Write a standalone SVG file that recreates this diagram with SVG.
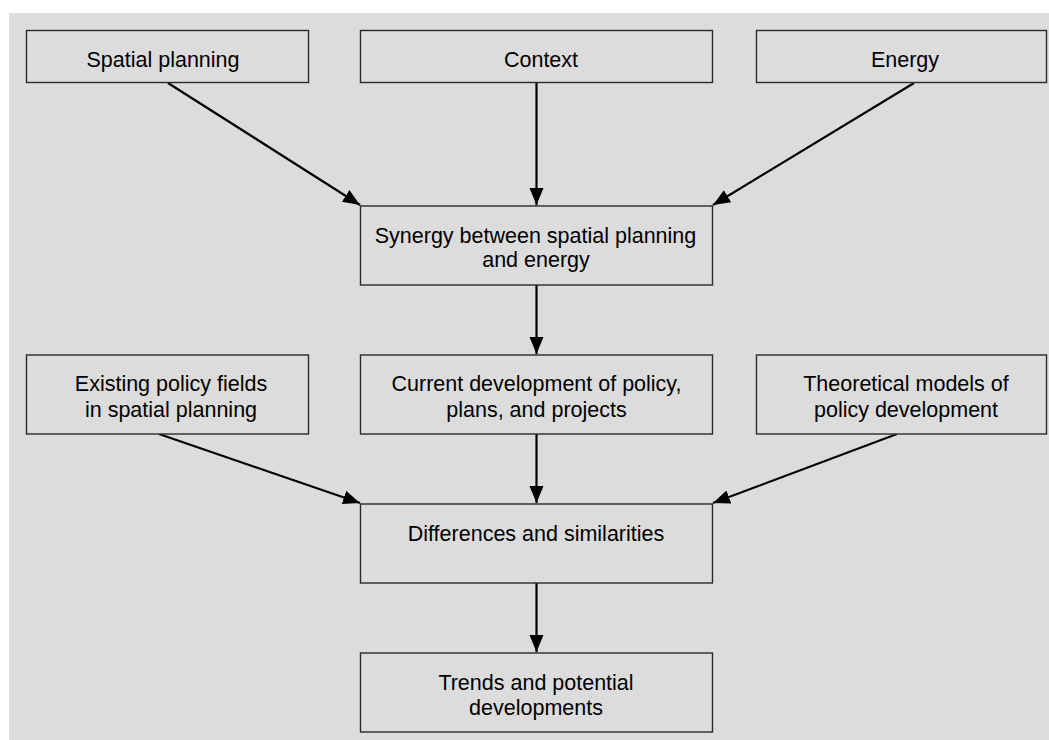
<svg xmlns="http://www.w3.org/2000/svg" width="1049" height="740" viewBox="0 0 1049 740">
<style>
.bg{fill:#ffffff}
.panel{fill:#dcdcdc}
.box{fill:#dcdcdc;stroke:#2a2a2a;stroke-width:1.4}
.t{font-family:"Liberation Sans",Arial,sans-serif;font-size:21.5px;fill:#000;text-anchor:middle}
.c{stroke:#000;stroke-width:2.2;fill:none;marker-end:url(#ah)}
</style>
<defs>
<marker id="ah" markerUnits="userSpaceOnUse" markerWidth="19" markerHeight="15" refX="17" refY="7" orient="auto">
<path d="M0,0 L17,7 L0,14 z" fill="#000"/>
</marker>
</defs>
<rect class="bg" x="0" y="0" width="1049" height="740"/>
<rect class="panel" x="9" y="13" width="1040" height="727"/>
<g id="connectors">
<line class="c" x1="168" y1="83" x2="360" y2="205"/>
<line class="c" x1="536.5" y1="83" x2="536.5" y2="205"/>
<line class="c" x1="914" y1="83" x2="713" y2="205"/>
<line class="c" x1="536.5" y1="285" x2="536.5" y2="354"/>
<line class="c" x1="159" y1="434" x2="360" y2="503"/>
<line class="c" x1="536.5" y1="434" x2="536.5" y2="503"/>
<line class="c" x1="897" y1="434" x2="713" y2="503"/>
<line class="c" x1="536.5" y1="583" x2="536.5" y2="652"/>
</g>
<g id="spatial">
<rect class="box" x="26.5" y="30.5" width="282" height="52"/>
<text class="t" x="163" y="66.5">Spatial planning</text>
</g>
<g id="context">
<rect class="box" x="360.5" y="30.5" width="352" height="52"/>
<text class="t" x="541" y="66.5">Context</text>
</g>
<g id="energy">
<rect class="box" x="756.5" y="30.5" width="290" height="52"/>
<text class="t" x="905" y="66.5">Energy</text>
</g>
<g id="synergy">
<rect class="box" x="360.5" y="206" width="352" height="79"/>
<text class="t" x="535.5" y="242.5">Synergy between spatial planning</text>
<text class="t" x="536" y="267">and energy</text>
</g>
<g id="existing">
<rect class="box" x="26.5" y="355" width="282" height="79"/>
<text class="t" x="171" y="390.5">Existing policy fields</text>
<text class="t" x="171" y="417">in spatial planning</text>
</g>
<g id="current">
<rect class="box" x="360.5" y="355" width="352" height="79"/>
<text class="t" x="536.5" y="390.5">Current development of policy,</text>
<text class="t" x="536.5" y="417">plans, and projects</text>
</g>
<g id="theoretical">
<rect class="box" x="756.5" y="355" width="290" height="79"/>
<text class="t" x="906" y="390.5">Theoretical models of</text>
<text class="t" x="906" y="417">policy development</text>
</g>
<g id="differences">
<rect class="box" x="360.5" y="504" width="352" height="79"/>
<text class="t" x="536" y="540.5">Differences and similarities</text>
</g>
<g id="trends">
<rect class="box" x="360.5" y="653" width="352" height="79"/>
<text class="t" x="536" y="689.5">Trends and potential</text>
<text class="t" x="536" y="714.5">developments</text>
</g>
</svg>
